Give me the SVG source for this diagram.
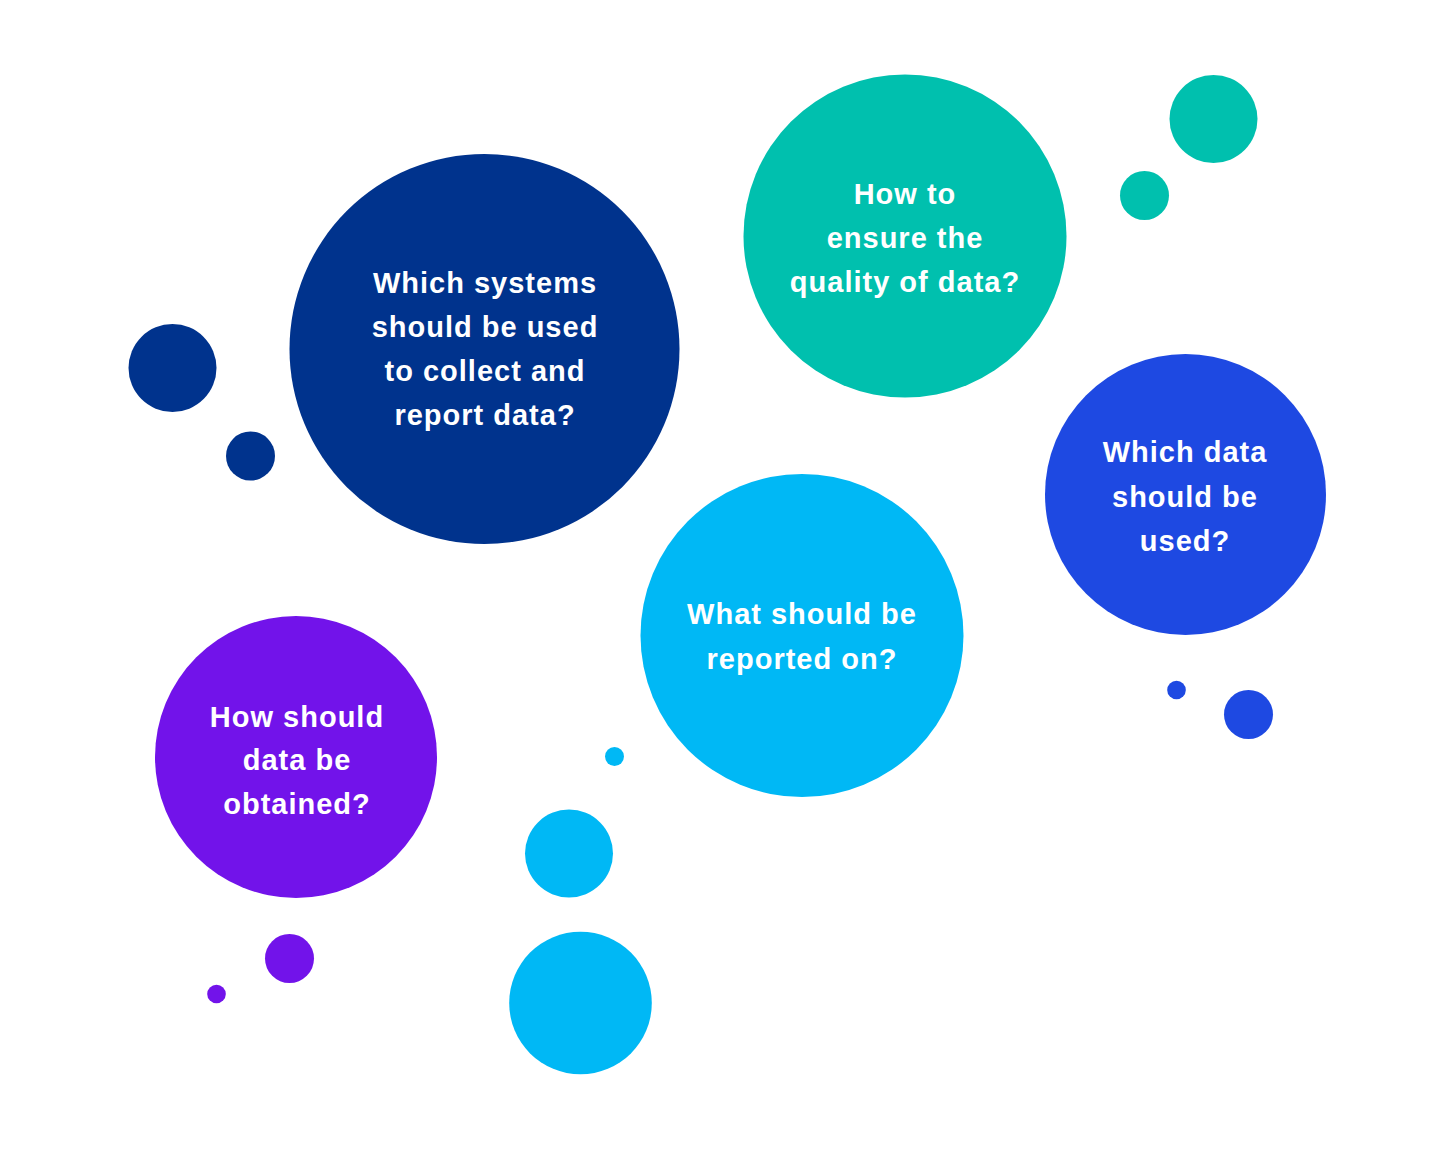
<svg xmlns="http://www.w3.org/2000/svg" width="1440" height="1150" viewBox="0 0 1440 1150">
<style>
.lbl{font-family:"Liberation Sans",Arial,sans-serif;font-weight:bold;font-size:29px;fill:#ffffff;text-anchor:middle;letter-spacing:1px}
.navy{fill:#00338D}
.teal{fill:#00C0AE}
.blue{fill:#1E49E2}
.cyan{fill:#00B8F5}
.purple{fill:#7213EA}
</style>
<rect width="1440" height="1150" fill="#ffffff"/>
<g id="connectors"></g>
<g id="node-systems">
<circle class="navy" cx="484.5" cy="349" r="195"/>
<circle class="navy" cx="172.5" cy="368" r="44"/>
<circle class="navy" cx="250.5" cy="456" r="24.5"/>
<text class="lbl" x="485" y="293">Which systems</text>
<text class="lbl" x="485" y="337">should be used</text>
<text class="lbl" x="485" y="381">to collect and</text>
<text class="lbl" x="485" y="425">report data?</text>
</g>
<g id="node-quality">
<circle class="teal" cx="905" cy="236" r="161.5"/>
<circle class="teal" cx="1213.5" cy="119" r="44"/>
<circle class="teal" cx="1144.5" cy="195.5" r="24.5"/>
<text class="lbl" x="905" y="204">How to</text>
<text class="lbl" x="905" y="248">ensure the</text>
<text class="lbl" x="905" y="292">quality of data?</text>
</g>
<g id="node-which-data">
<circle class="blue" cx="1185.5" cy="494.5" r="140.5"/>
<circle class="blue" cx="1176.5" cy="690" r="9.3"/>
<circle class="blue" cx="1248.5" cy="714.5" r="24.5"/>
<text class="lbl" x="1185" y="462">Which data</text>
<text class="lbl" x="1185" y="507">should be</text>
<text class="lbl" x="1185" y="551">used?</text>
</g>
<g id="node-reported">
<circle class="cyan" cx="802" cy="635.5" r="161.5"/>
<circle class="cyan" cx="614.5" cy="756.5" r="9.5"/>
<circle class="cyan" cx="569" cy="853.5" r="44"/>
<circle class="cyan" cx="580.5" cy="1003" r="71.3"/>
<text class="lbl" x="802" y="624">What should be</text>
<text class="lbl" x="802" y="669">reported on?</text>
</g>
<g id="node-obtained">
<circle class="purple" cx="296" cy="757" r="141"/>
<circle class="purple" cx="289.5" cy="958.5" r="24.5"/>
<circle class="purple" cx="216.5" cy="994" r="9.3"/>
<text class="lbl" x="297" y="727">How should</text>
<text class="lbl" x="297" y="770">data be</text>
<text class="lbl" x="297" y="814">obtained?</text>
</g>
</svg>
